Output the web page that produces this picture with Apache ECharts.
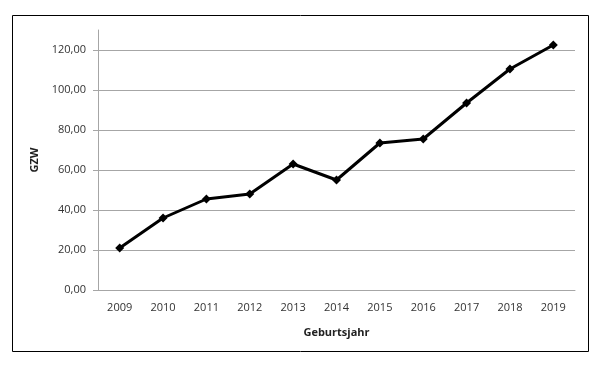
<!DOCTYPE html>
<html>
<head>
<meta charset="utf-8">
<script src="https://cdn.jsdelivr.net/npm/echarts@6/dist/echarts.min.js"></script>
<style>
html,body{margin:0;padding:0;background:#fff;}
#c{width:600px;height:366px;}
</style>
</head>
<body>
<div id="c"></div>
<script>
var categories = ['2009','2010','2011','2012','2013','2014','2015','2016','2017','2018','2019'];
var gzwValues = [21, 36, 45.5, 48, 63, 55, 73.5, 75.5, 93.5, 110.5, 122.5];
var yTicks = [0, 20, 40, 60, 80, 100, 120];

var chart = echarts.init(document.getElementById('c'));
var font = 'Open Sans, Liberation Sans, sans-serif';
chart.setOption({
  animation: false,
  graphic: [{
    type: 'rect',
    shape: {x: 12.5, y: 15.5, width: 576, height: 336},
    style: {fill: 'none', stroke: '#000', lineWidth: 1}
  }],
  grid: {left: 98, right: 25, top: 30, bottom: 76},
  xAxis: {
    type: 'category',
    data: categories,
    boundaryGap: true,
    name: 'Geburtsjahr',
    nameLocation: 'middle',
    nameGap: 37,
    nameTextStyle: {fontFamily: font, fontSize: 11, fontWeight: 'bold', color: '#222'},
    axisLine: {lineStyle: {color: '#a6a6a6', width: 1}},
    axisTick: {show: false},
    axisLabel: {fontFamily: font, fontSize: 11, color: '#333', margin: 12}
  },
  yAxis: {
    type: 'value',
    min: 0,
    max: 130,
    interval: 20,
    name: 'GZW',
    nameLocation: 'middle',
    nameGap: 58,
    nameRotate: 90,
    nameTextStyle: {fontFamily: font, fontSize: 11, fontWeight: 'bold', color: '#222'},
    axisLine: {show: true, lineStyle: {color: '#a6a6a6', width: 1}},
    axisTick: {show: true, length: 5, lineStyle: {color: '#a6a6a6'}},
    splitLine: {show: true, showMaxLine: false, lineStyle: {color: '#a6a6a6', width: 1}},
    axisLabel: {
      fontFamily: font, fontSize: 11, color: '#333', margin: 12, showMaxLabel: false,
      formatter: function (v) { return yTicks.indexOf(v) >= 0 ? v.toFixed(2).replace('.', ',') : ''; }
    }
  },
  series: [{
    type: 'line',
    data: gzwValues,
    symbol: 'diamond',
    symbolSize: 9,
    lineStyle: {color: '#000', width: 3},
    itemStyle: {color: '#000'}
  }]
});
</script>
</body>
</html>
